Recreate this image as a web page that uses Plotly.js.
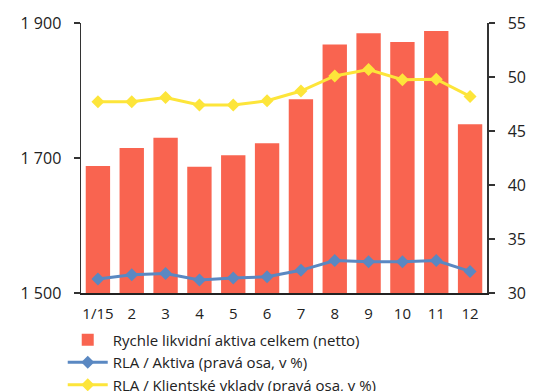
<!DOCTYPE html>
<html>
<head>
<meta charset="utf-8">
<script src="https://cdn.plot.ly/plotly-3.0.1.min.js"></script>
<style>html,body{margin:0;padding:0;background:#fff;overflow:hidden}</style>
</head>
<body>
<div id="chart" style="width:535px;height:391px"></div>
<script>
const categories = ["1/15","2","3","4","5","6","7","8","9","10","11","12"];
const rlaTotal = [1688, 1715, 1730, 1687, 1704, 1722, 1787, 1868, 1885, 1872, 1888, 1750];
const rlaAssets = [31.3, 31.7, 31.8, 31.2, 31.4, 31.5, 32.1, 33.0, 32.9, 32.9, 33.0, 32.0];
const rlaDeposits = [47.7, 47.7, 48.1, 47.4, 47.4, 47.8, 48.7, 50.1, 50.7, 49.75, 49.8, 48.2];
const seriesNames = ["Rychle likvidní aktiva celkem (netto)", "RLA / Aktiva (pravá osa, v %)", "RLA / Klientské vklady (pravá osa, v %)"];

const FONT = "Open Sans, Noto Sans, sans-serif";
const data = [
  {type:"bar", x:categories, y:rlaTotal, name:seriesNames[0],
   marker:{color:"#F96450"}, yaxis:"y"},
  {type:"scatter", mode:"lines+markers", x:categories, y:rlaAssets, name:seriesNames[1],
   line:{color:"#5A88C2", width:3}, marker:{symbol:"diamond", size:10, color:"#5A88C2"}, yaxis:"y2"},
  {type:"scatter", mode:"lines+markers", x:categories, y:rlaDeposits, name:seriesNames[2],
   line:{color:"#FDE53A", width:3}, marker:{symbol:"diamond", size:10, color:"#FDE53A"}, yaxis:"y2"}
];
const layout = {
  width:535, height:391,
  margin:{l:81, r:48, t:23, b:98, autoexpand:false},
  paper_bgcolor:"#fff", plot_bgcolor:"#fff",
  font:{family:FONT, size:15, color:"#222"},
  bargap:0.28,
  showlegend:true,
  legend:{x:-0.045, y:-0.113, xanchor:"left", yanchor:"top", orientation:"v",
          font:{family:FONT, size:15, color:"#222"}, itemwidth:40, tracegroupgap:0,
          bgcolor:"rgba(0,0,0,0)"},
  xaxis:{type:"category", range:[-0.5,11.5], showline:true, linecolor:"#222", linewidth:1.5,
         ticks:"", showgrid:false, zeroline:false, tickfont:{size:15}, fixedrange:true,
         ticklabelstandoff:6},
  yaxis:{range:[1500,1900], dtick:200, tick0:1500, showline:true, linecolor:"#333", linewidth:1.5,
         ticks:"outside", ticklen:6, tickcolor:"#333", tickwidth:1.5, showgrid:false, zeroline:false,
         tickformat:",d", ticklabelstandoff:9, tickfont:{size:16}},
  yaxis2:{range:[30,55], dtick:5, overlaying:"y", side:"right", showline:true, linecolor:"#333",
          linewidth:1.5, ticks:"outside", ticklen:6, tickcolor:"#333", tickwidth:1.5,
          showgrid:false, zeroline:false, tickfont:{size:16}, ticklabelstandoff:10},
  separators:", "
};
Plotly.newPlot("chart", data, layout, {displayModeBar:false, staticPlot:true});
</script>
</body>
</html>
